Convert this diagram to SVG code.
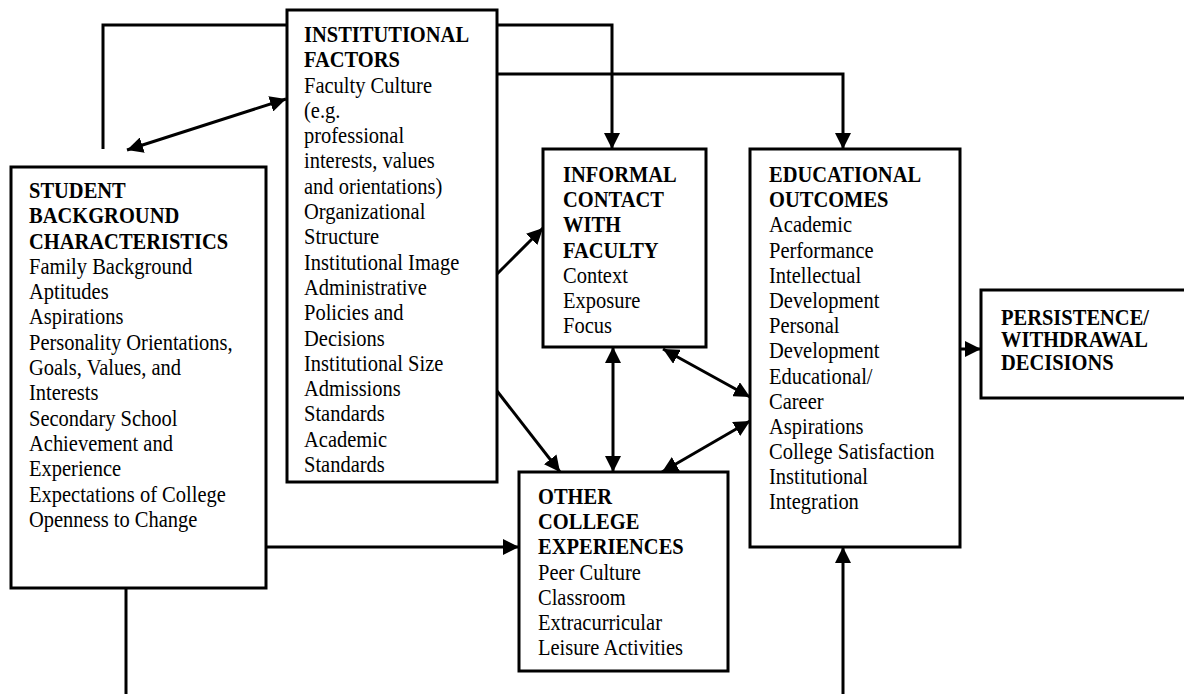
<svg xmlns="http://www.w3.org/2000/svg" width="1184" height="694" viewBox="0 0 1184 694">
<style>
.box{fill:#fff;stroke:#000;stroke-width:3}
.c{fill:none;stroke:#000;stroke-width:3}
text{font-family:"Liberation Serif","Times New Roman",serif;font-size:20.5px;fill:#000}
.h{font-weight:bold}
</style>
<defs>
<marker id="ah" markerUnits="userSpaceOnUse" markerWidth="17" markerHeight="16" refX="16" refY="8" orient="auto-start-reverse" viewBox="0 0 17 16">
<path d="M0,0 L16,8 L0,16 Z" fill="#000"/>
</marker>
</defs>
<rect width="1184" height="694" fill="#fff"/>
<g id="connectors">
<polyline class="c" points="103,149 103,25 612,25 612,149" marker-end="url(#ah)"/>
<polyline class="c" points="497,74 843,74 843,149" marker-end="url(#ah)"/>
<line class="c" x1="127" y1="150" x2="286" y2="99" marker-start="url(#ah)" marker-end="url(#ah)"/>
<line class="c" x1="497" y1="274" x2="543" y2="228" marker-end="url(#ah)"/>
<line class="c" x1="497" y1="391" x2="560" y2="472" marker-end="url(#ah)"/>
<line class="c" x1="613" y1="347" x2="613" y2="472" marker-start="url(#ah)" marker-end="url(#ah)"/>
<line class="c" x1="663" y1="349" x2="750" y2="397" marker-start="url(#ah)" marker-end="url(#ah)"/>
<line class="c" x1="662" y1="472" x2="750" y2="421" marker-start="url(#ah)" marker-end="url(#ah)"/>
<line class="c" x1="266" y1="547" x2="519" y2="547" marker-end="url(#ah)"/>
<line class="c" x1="960" y1="349" x2="981" y2="349" marker-end="url(#ah)"/>
<line class="c" x1="126" y1="588" x2="126" y2="694"/>
<line class="c" x1="843" y1="694" x2="843" y2="547" marker-end="url(#ah)"/>
</g>
<g id="student">
<rect class="box" x="11" y="167" width="255" height="421"/>
<text transform="translate(29,198) scale(1,1.1)">
<tspan x="0" y="0" class="h">STUDENT</tspan>
<tspan x="0" dy="23" class="h">BACKGROUND</tspan>
<tspan x="0" dy="23" class="h">CHARACTERISTICS</tspan>
<tspan x="0" dy="23">Family Background</tspan>
<tspan x="0" dy="23">Aptitudes</tspan>
<tspan x="0" dy="23">Aspirations</tspan>
<tspan x="0" dy="23">Personality Orientations,</tspan>
<tspan x="0" dy="23">Goals, Values, and</tspan>
<tspan x="0" dy="23">Interests</tspan>
<tspan x="0" dy="23">Secondary School</tspan>
<tspan x="0" dy="23">Achievement and</tspan>
<tspan x="0" dy="23">Experience</tspan>
<tspan x="0" dy="23">Expectations of College</tspan>
<tspan x="0" dy="23">Openness to Change</tspan>
</text>
</g>
<g id="institutional">
<rect class="box" x="287" y="10" width="210" height="472"/>
<text transform="translate(304,42) scale(1,1.1)">
<tspan x="0" y="0" class="h">INSTITUTIONAL</tspan>
<tspan x="0" dy="23" class="h">FACTORS</tspan>
<tspan x="0" dy="23">Faculty Culture</tspan>
<tspan x="0" dy="23">(e.g.</tspan>
<tspan x="0" dy="23">professional</tspan>
<tspan x="0" dy="23">interests, values</tspan>
<tspan x="0" dy="23">and orientations)</tspan>
<tspan x="0" dy="23">Organizational</tspan>
<tspan x="0" dy="23">Structure</tspan>
<tspan x="0" dy="23">Institutional Image</tspan>
<tspan x="0" dy="23">Administrative</tspan>
<tspan x="0" dy="23">Policies and</tspan>
<tspan x="0" dy="23">Decisions</tspan>
<tspan x="0" dy="23">Institutional Size</tspan>
<tspan x="0" dy="23">Admissions</tspan>
<tspan x="0" dy="23">Standards</tspan>
<tspan x="0" dy="23">Academic</tspan>
<tspan x="0" dy="23">Standards</tspan>
</text>
</g>
<g id="informal">
<rect class="box" x="543" y="149" width="163" height="198"/>
<text transform="translate(563,182) scale(1,1.1)">
<tspan x="0" y="0" class="h">INFORMAL</tspan>
<tspan x="0" dy="22.9" class="h">CONTACT</tspan>
<tspan x="0" dy="22.9" class="h">WITH</tspan>
<tspan x="0" dy="22.9" class="h">FACULTY</tspan>
<tspan x="0" dy="22.9">Context</tspan>
<tspan x="0" dy="22.9">Exposure</tspan>
<tspan x="0" dy="22.9">Focus</tspan>
</text>
</g>
<g id="educational">
<rect class="box" x="750" y="149" width="210" height="398"/>
<text transform="translate(769,182) scale(1,1.1)">
<tspan x="0" y="0" class="h">EDUCATIONAL</tspan>
<tspan x="0" dy="22.9" class="h">OUTCOMES</tspan>
<tspan x="0" dy="22.9">Academic</tspan>
<tspan x="0" dy="22.9">Performance</tspan>
<tspan x="0" dy="22.9">Intellectual</tspan>
<tspan x="0" dy="22.9">Development</tspan>
<tspan x="0" dy="22.9">Personal</tspan>
<tspan x="0" dy="22.9">Development</tspan>
<tspan x="0" dy="22.9">Educational/</tspan>
<tspan x="0" dy="22.9">Career</tspan>
<tspan x="0" dy="22.9">Aspirations</tspan>
<tspan x="0" dy="22.9">College Satisfaction</tspan>
<tspan x="0" dy="22.9">Institutional</tspan>
<tspan x="0" dy="22.9">Integration</tspan>
</text>
</g>
<g id="other">
<rect class="box" x="519" y="472" width="209" height="199"/>
<text transform="translate(538,504) scale(1,1.1)">
<tspan x="0" y="0" class="h">OTHER</tspan>
<tspan x="0" dy="22.9" class="h">COLLEGE</tspan>
<tspan x="0" dy="22.9" class="h">EXPERIENCES</tspan>
<tspan x="0" dy="22.9">Peer Culture</tspan>
<tspan x="0" dy="22.9">Classroom</tspan>
<tspan x="0" dy="22.9">Extracurricular</tspan>
<tspan x="0" dy="22.9">Leisure Activities</tspan>
</text>
</g>
<g id="persistence">
<rect class="box" x="981" y="290" width="220" height="108"/>
<text transform="translate(1001,324.5) scale(1,1.1)">
<tspan x="0" y="0" class="h">PERSISTENCE/</tspan>
<tspan x="0" dy="20.9" class="h">WITHDRAWAL</tspan>
<tspan x="0" dy="20.9" class="h">DECISIONS</tspan>
</text>
</g>
</svg>
